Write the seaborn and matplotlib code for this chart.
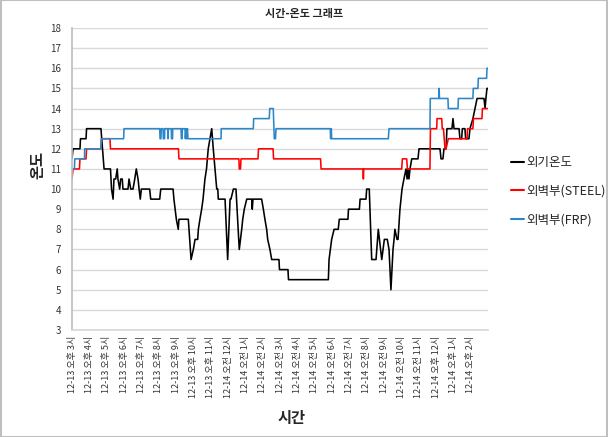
import matplotlib
matplotlib.use("Agg")
import matplotlib.pyplot as plt
import seaborn as sns
import pandas as pd
from matplotlib.patches import Rectangle
from matplotlib.lines import Line2D

sns.set_theme(style="white")
plt.rcParams['font.family'] = ['Noto Sans CJK KR', 'DejaVu Sans']

# ---- data (hours since 12-13 오후 3시) ----
tick_labels = (["12-13 오후 %d시" % h for h in range(3, 12)] +
               ["12-14 오전 12시"] +
               ["12-14 오전 %d시" % h for h in range(1, 12)] +
               ["12-14 오후 12시", "12-14 오후 1시", "12-14 오후 2시"])

outdoor_t = [0.00, 0.06, 0.46, 0.49, 0.81, 0.84, 1.67, 1.76, 1.85, 2.22, 2.28, 2.37, 2.42, 2.52, 2.61,
             2.65, 2.75, 2.81, 2.90, 2.94, 3.23, 3.29, 3.39, 3.52, 3.62, 3.71, 3.81, 3.87, 3.94, 4.00,
             4.48, 4.54, 5.06, 5.12, 5.83, 5.88, 6.02, 6.13, 6.17, 6.71, 6.87, 7.00, 7.10, 7.25, 7.29,
             7.38, 7.48, 7.56, 7.67, 7.76, 7.86, 8.06, 8.15, 8.25, 8.35, 8.41, 8.44, 8.83, 8.98, 9.12,
             9.17, 9.31, 9.46, 9.65, 9.79, 9.85, 9.94, 10.08, 10.37, 10.40, 10.44, 10.94, 11.04, 11.13,
             11.23, 11.29, 11.42, 11.52, 11.94, 11.97, 12.46, 12.49, 14.79, 14.83, 14.98, 15.12, 15.36,
             15.42, 15.92, 15.95, 16.58, 16.62, 16.96, 17.00, 17.15, 17.29, 17.54, 17.67, 17.87, 18.02,
             18.19, 18.29, 18.40, 18.52, 18.58, 18.63, 18.75, 18.81, 18.92, 19.04, 19.15, 19.27, 19.33,
             19.38, 19.44, 19.50, 19.60, 19.96, 20.02, 21.23, 21.29, 21.40, 21.46, 21.58, 21.63, 21.92,
             21.98, 22.04, 22.33, 22.38, 22.48, 22.52, 22.67, 22.71, 22.90, 22.96, 23.13, 23.25, 23.37,
             23.77, 23.83, 23.88, 23.94, 24.00]
outdoor_v = [11.5, 12, 12, 12.5, 12.5, 13, 13, 12, 11, 11, 10, 9.5, 10.5, 10.5, 11,
             10.5, 10, 10.5, 10.5, 10, 10, 10.5, 10, 10, 10.5, 11, 10.5, 10, 9.5, 10,
             10, 9.5, 9.5, 10, 10, 9.5, 8.5, 8, 8.5, 8.5, 6.5, 7, 7.5, 7.5, 8,
             8.5, 9, 9.5, 10.5, 11, 12, 13, 12, 11, 10, 10, 9.5, 9.5, 6.5, 9.5,
             9.5, 10, 10, 7, 8, 8.5, 9, 9.5, 9.5, 9, 9.5, 9.5, 9, 8.5,
             8, 7.5, 7, 6.5, 6.5, 6, 6, 5.5, 5.5, 6.5, 7.5, 8, 8,
             8.5, 8.5, 9, 9, 9.5, 9.5, 10, 10, 6.5, 6.5, 8, 6.5, 7.5,
             7.5, 7, 5, 7, 7.5, 8, 7.5, 7.5, 9, 10, 10.5, 11, 10.5,
             11, 10.5, 11, 11.5, 11.5, 12, 12, 11.5, 11.5, 12, 12, 13, 13,
             13.5, 13, 13, 12.5, 12.5, 13, 13, 12.5, 12.5, 13, 13.5, 14, 14.5,
             14.5, 14, 14.5, 15, 15]

steel_t = [0.00, 0.06, 0.43, 0.46, 0.81, 0.84, 1.67, 1.70, 2.19, 2.22, 6.14, 6.17, 9.63, 9.65, 9.72,
           9.75, 10.73, 10.76, 11.60, 11.63, 14.34, 14.37, 16.79, 16.81, 16.83, 19.02, 19.06, 19.31,
           19.35, 20.65, 20.68, 21.04, 21.06, 21.33, 21.36, 21.43, 21.52, 21.58, 21.71, 22.79, 22.82,
           23.13, 23.16, 23.65, 23.68, 24.00]
steel_v = [10.5, 11, 11, 11.5, 11.5, 12, 12, 12.5, 12.5, 12, 12, 11.5, 11.5, 11, 11,
           11.5, 11.5, 12, 12, 11.5, 11.5, 11, 11, 10.5, 11, 11, 11.5, 11.5,
           11, 11, 13, 13, 13.5, 13.5, 13, 13, 12, 12, 12.5, 12.5, 13,
           13, 13.5, 13.5, 14, 14]

frp_t = [0.00, 0.14, 0.16, 0.72, 0.73, 1.67, 1.69, 2.98, 3.00, 5.06, 5.08, 5.13, 5.15, 5.25, 5.27,
         5.34, 5.35, 5.52, 5.54, 5.56, 5.73, 5.74, 5.80, 5.81, 6.29, 6.31, 6.35, 6.37, 6.52, 6.54,
         6.58, 6.61, 6.66, 6.69, 8.60, 8.61, 10.46, 10.48, 11.38, 11.41, 11.61, 11.67, 11.74, 11.77,
         14.90, 14.92, 14.96, 14.98, 18.25, 18.29, 20.65, 20.67, 21.17, 21.18, 21.20, 21.69, 21.71,
         22.27, 22.29, 23.13, 23.15, 23.42, 23.44, 23.92, 23.94, 24.00]
frp_v = [11, 11, 11.5, 11.5, 12, 12, 12.5, 12.5, 13, 13, 12.5, 12.5, 13, 13, 12.5,
         12.5, 13, 13, 12.5, 13, 13, 12.5, 12.5, 13, 13, 12.5, 12.5, 13, 13, 12.5,
         13, 12.5, 13, 12.5, 12.5, 13, 13, 13.5, 13.5, 14, 14, 12.5, 12.5, 13,
         13, 12.5, 13, 12.5, 12.5, 13, 13, 14.5, 14.5, 15, 14.5, 14.5, 14,
         14, 14.5, 14.5, 15, 15, 15.5, 15.5, 16, 16]

series_names = ["외기온도", "외벽부(STEEL)", "외벽부(FRP)"]
colors = ["#000000", "#ff0000", "#2c87c9"]

df = pd.concat([
    pd.DataFrame({"t": outdoor_t, "v": outdoor_v, "s": series_names[0]}),
    pd.DataFrame({"t": steel_t, "v": steel_v, "s": series_names[1]}),
    pd.DataFrame({"t": frp_t, "v": frp_v, "s": series_names[2]}),
], ignore_index=True)

fig = plt.figure(figsize=(6.08, 4.37), dpi=100)
ax = fig.add_axes([72/608, 1-330/437, (488-72)/608, (330-28)/437])

sns.lineplot(data=df, x="t", y="v", hue="s", hue_order=series_names,
             palette=dict(zip(series_names, colors)), estimator=None, sort=False,
             linewidth=1.15, ax=ax, legend=False)

ax.set_xlim(0, 24)
ax.set_ylim(3, 18)
ax.set_yticks(range(3, 19))
ax.set_xticks(range(24))
ax.set_xticklabels(tick_labels, rotation=90, fontsize=6.5, color="#333333")
ax.tick_params(axis="y", labelsize=7, colors="#333333", length=0, pad=8)
ax.tick_params(axis="x", length=0, pad=4)
ax.grid(axis="y", color="#d9d9d9", linewidth=1)
ax.grid(axis="x", visible=False)
for side in ["top", "right"]:
    ax.spines[side].set_visible(False)
ax.spines["left"].set_color("#bfbfbf")
ax.spines["bottom"].set_color("#d9d9d9")
ax.set_xlabel("")
ax.set_ylabel("")

fig.text(304/608, 1-14/437, "시간-온도 그래프", ha="center", va="center",
         fontsize=8, fontweight="bold")
fig.text(37/608, 1-165/437, "온도", ha="center", va="center", rotation=90,
         fontsize=11, fontweight="bold")
fig.text(292/608, 1-418/437, "시간", ha="center", va="center",
         fontsize=11, fontweight="bold")

handles = [Line2D([0], [0], color=c, lw=1.5) for c in colors]
fig.legend(handles, series_names, loc="upper left", bbox_to_anchor=(500/608, 1-145/437),
           frameon=False, fontsize=9, handlelength=1.0, handletextpad=0.2,
           labelspacing=1.25)

fig.add_artist(Rectangle((0.001, 0.001), 0.998, 0.998, transform=fig.transFigure,
                         fill=False, edgecolor="#bfbfbf", linewidth=1.5))

fig.savefig("out.png", dpi=100)
